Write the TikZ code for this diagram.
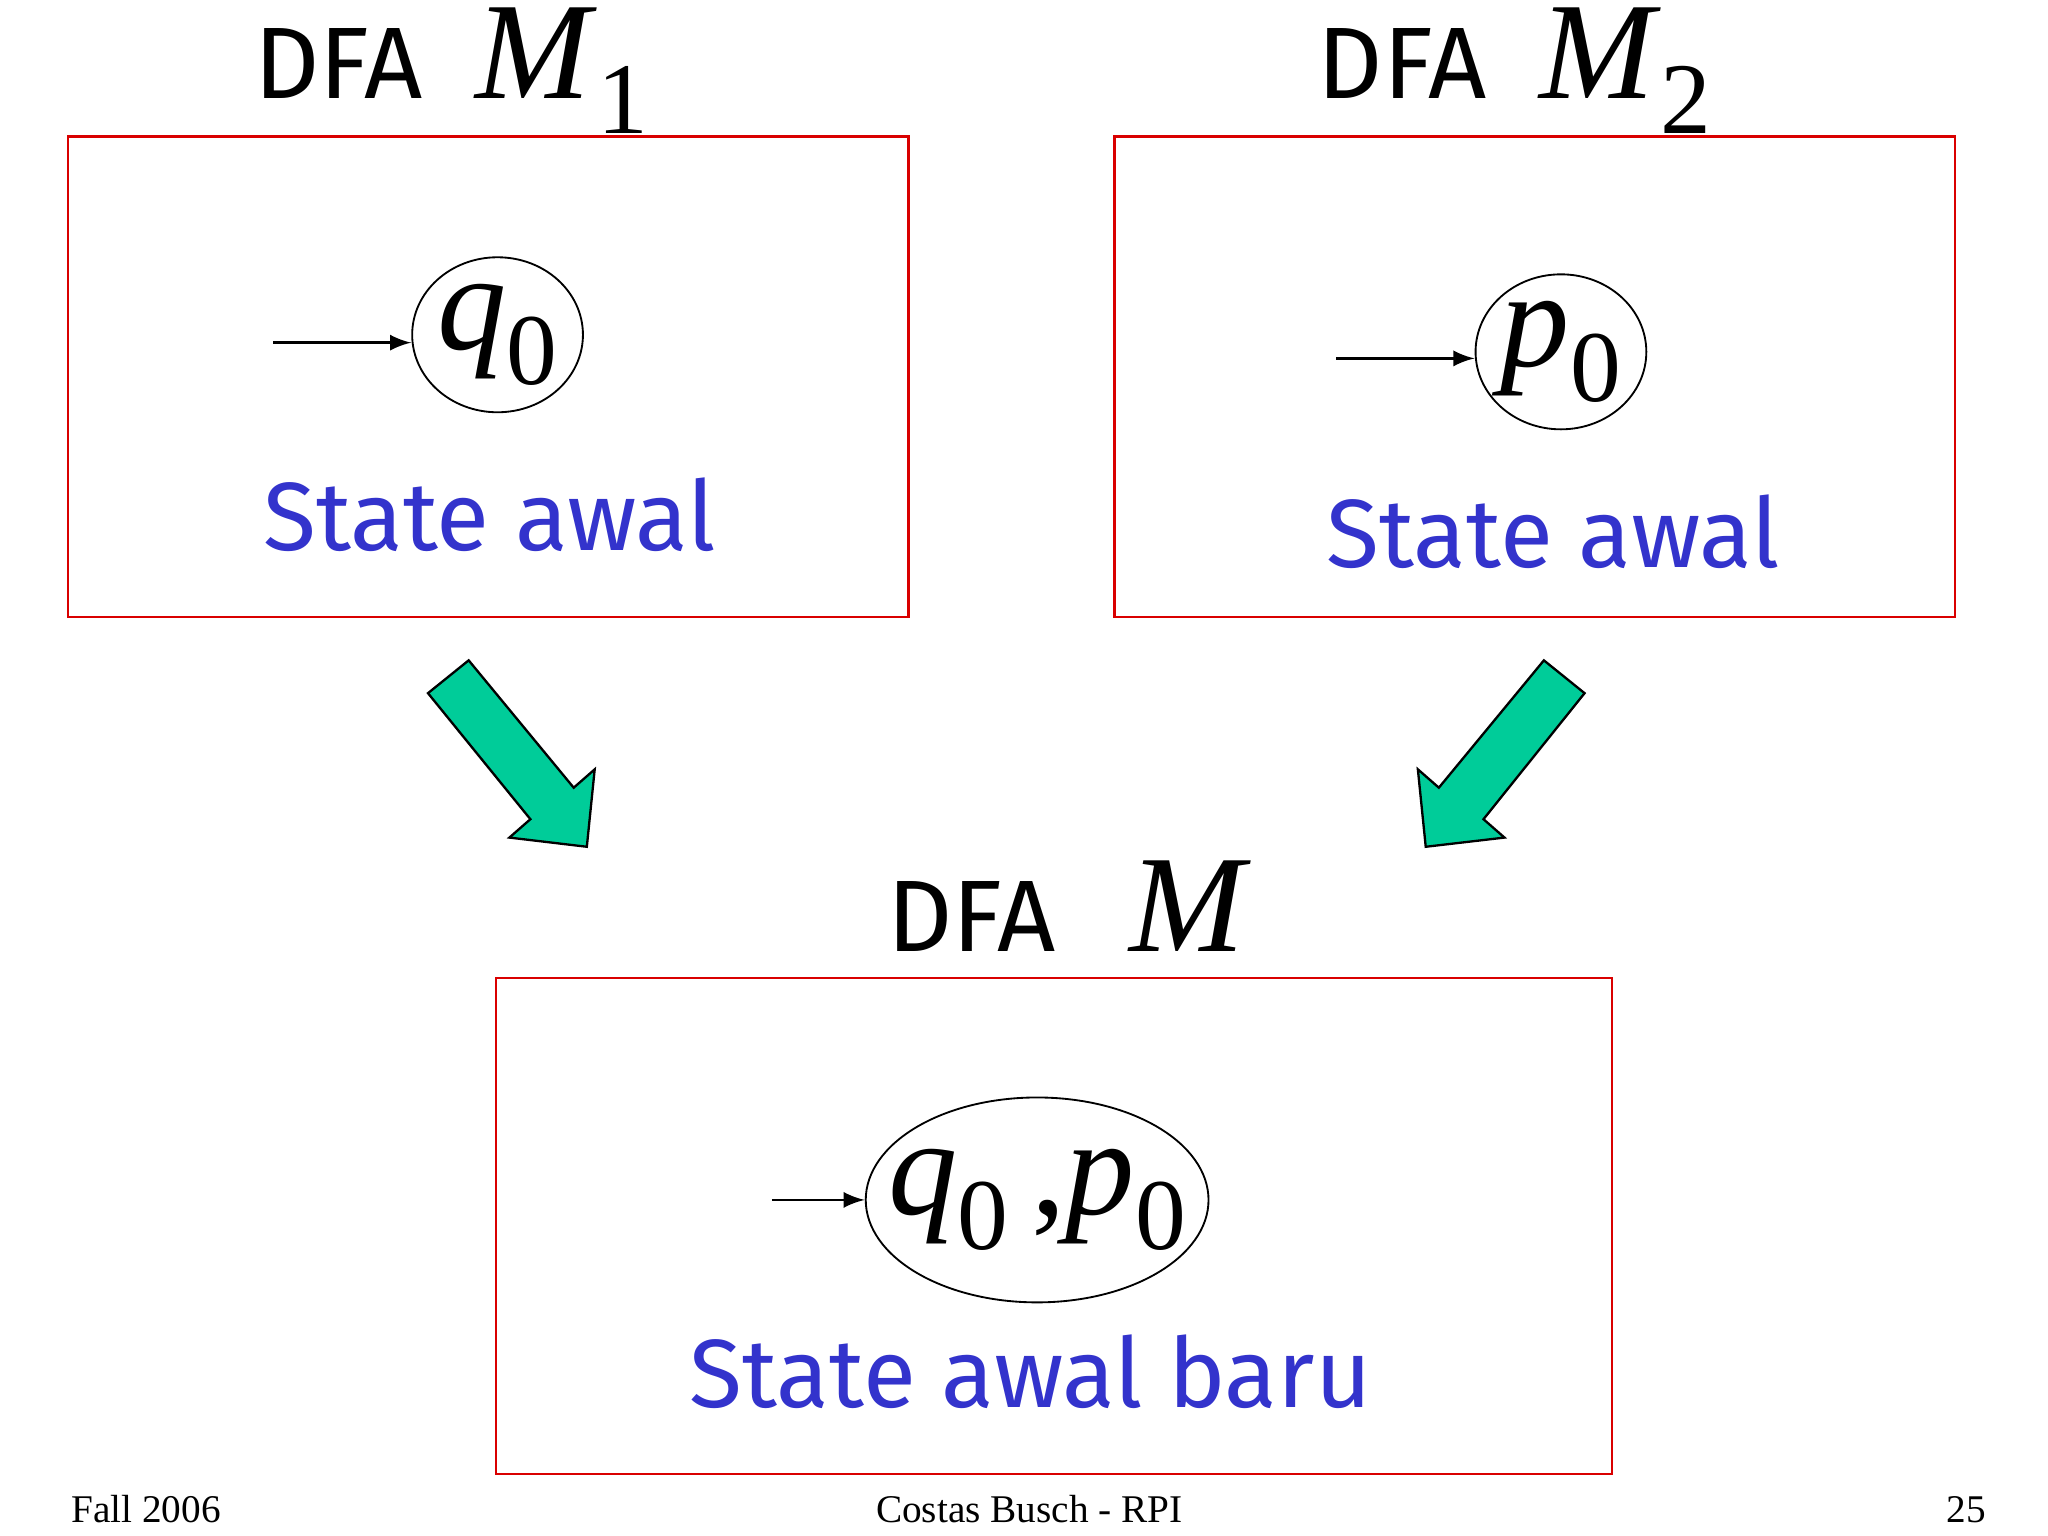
\documentclass[tikz,border=0pt]{standalone}
\usetikzlibrary{shapes.geometric}
\usepackage{fontspec}
\setmainfont{Liberation Serif}
\newfontfamily\comic{Fira Sans}
\definecolor{garr}{HTML}{00CC99}
\definecolor{blab}{HTML}{3333CC}
\newcommand{\sub}[2]{\textit{#1}\raisebox{-0.25em}{\fontsize{22}{24}\selectfont #2}}
\begin{document}
\begin{tikzpicture}[x=0.01cm,y=-0.01cm,
  box/.style={draw=red!85!black,line width=0.5pt},
  lab/.style={text=blab,font=\comic\fontsize{21}{24}\selectfont},
  ttl/.style={font=\comic\fontsize{22}{26}\selectfont},
  mm/.style={font=\fontsize{30}{34}\selectfont},
  st/.style={draw,ellipse,inner sep=0pt,font=\fontsize{30}{34}\selectfont},
  ini/.style={-latex,line width=0.6pt},
  garrow/.style={fill=garr,draw=black,line width=0.5pt},
  foot/.style={font=\fontsize{8.5}{10}\selectfont}]
\useasboundingbox (0,0) rectangle (1560,1170);
\draw[box] (52,104) rectangle (692,470);
\draw[box] (849,104) rectangle (1489,470);
\draw[box] (378,745) rectangle (1228,1123);
\node[ttl,anchor=base] (t1) at (258,75) {DFA};
\node[mm,anchor=base west] (m1) at (350,75) {\sub{M}{1}};
\node[ttl,anchor=base] (t2) at (1068,75) {DFA};
\node[mm,anchor=base west] (m2) at (1160,75) {\sub{M}{2}};
\node[ttl,anchor=base] (t3) at (740,725) {DFA};
\node[mm,anchor=base west] (m3) at (848,725) {\textit{M}};
\node[st,minimum width=1.3cm,minimum height=1.18cm] (q0) at (379,255) {\sub{q}{0}};
\node[st,minimum width=1.3cm,minimum height=1.18cm] (p0) at (1189,268) {\sub{p}{0}};
\node[st,inner sep=-6pt,minimum width=1.94cm,minimum height=1.56cm] (qp) at (790,914) {\sub{q}{0}\,,\sub{p}{0}};
\coordinate (a1) at (208,261);
\coordinate (a2) at (1018,273);
\coordinate (a3) at (588,914);
\draw[ini] (a1) -- (q0.west|-a1);
\draw[ini] (a2) -- (p0.west|-a2);
\draw[ini] (a3) -- (qp.west);
\node[lab] (l1) at (373,392) {State awal};
\node[lab] (l2) at (1183,405) {State awal};
\node[lab] (l3) at (785,1045) {State awal baru};
\draw[garrow] (326,528)--(357,503)--(437,600)--(453,586)--(447,645)--(388,638)--(404,624)--cycle;
\draw[garrow] (1207,528)--(1176,503)--(1096,600)--(1080,586)--(1086,645)--(1146,638)--(1130,624)--cycle;
\node[foot,anchor=base west] (f1) at (42,1160) {Fall 2006};
\node[foot,anchor=base] (f2) at (784,1160) {Costas Busch - RPI};
\node[foot,anchor=base east] (f3) at (1525,1160) {25};
\end{tikzpicture}
\end{document}
